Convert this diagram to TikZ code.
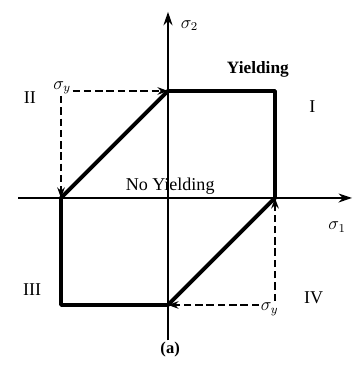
\documentclass[tikz,border=0pt]{standalone}
\usepackage{fontspec}
\setmainfont{Liberation Serif}
\usetikzlibrary{arrows.meta}
\begin{document}
\begin{tikzpicture}[x=2.5cm, y=2.5cm, font=\fontsize{12}{14}\selectfont,
  axis/.style={line width=1pt, -{Stealth[length=9pt,width=6pt]}},
  yieldline/.style={line width=2.6pt, line join=round},
  guide/.style={line width=1.5pt, dash pattern=on 5pt off 2.5pt, -{Stealth[length=7pt,width=5pt]}}]
  \useasboundingbox (-1.570,-1.589) rectangle (1.738,1.850);
  % axes
  \coordinate (xl) at (-1.40,0);
  \coordinate (xr) at (1.72,0);
  \coordinate (yb) at (0,-1.33);
  \coordinate (yt) at (0,1.74);
  \draw[axis] (xl) -- (xr);
  \draw[axis] (yb) -- (yt);
  \node (s1) at (1.58,-0.27) {$\sigma_1$};
  \node (s2) at (0.20,1.61) {$\sigma_2$};

  % yield locus
  \coordinate (A) at (0,1);
  \coordinate (B) at (1,1);
  \coordinate (C) at (1,0);
  \coordinate (D) at (0,-1);
  \coordinate (E) at (-1,-1);
  \coordinate (F) at (-1,0);
  \draw[yieldline] (A) -- (B) -- (C) -- (D) -- (E) -- (F) -- cycle;

  % sigma_y guides
  \node[inner sep=1pt] (sy1) at (-0.99,1.03) {$\sigma_y$};
  \draw[guide] (sy1.east |- A) -- (A);
  \draw[guide] (sy1.south -| F) -- (F);
  \node[inner sep=1pt] (sy2) at (0.95,-1.04) {$\sigma_y$};
  \draw[guide] (sy2.west |- D) -- (D);
  \draw[guide] (sy2.north -| C) -- (C);

  % labels
  \node[font=\fontsize{11.5}{13}\bfseries] (yld) at (0.84,1.20) {Yielding};
  \node (noyld) at (0.02,0.11) {No Yielding};
  \node (q1) at (1.35,0.85) {I};
  \node (q2) at (-1.29,0.94) {II};
  \node (q3) at (-1.27,-0.86) {III};
  \node (q4) at (1.36,-0.93) {IV};
  \node[font=\fontsize{11}{13}\bfseries] (cap) at (0.02,-1.42) {(a)};
\end{tikzpicture}
\end{document}
